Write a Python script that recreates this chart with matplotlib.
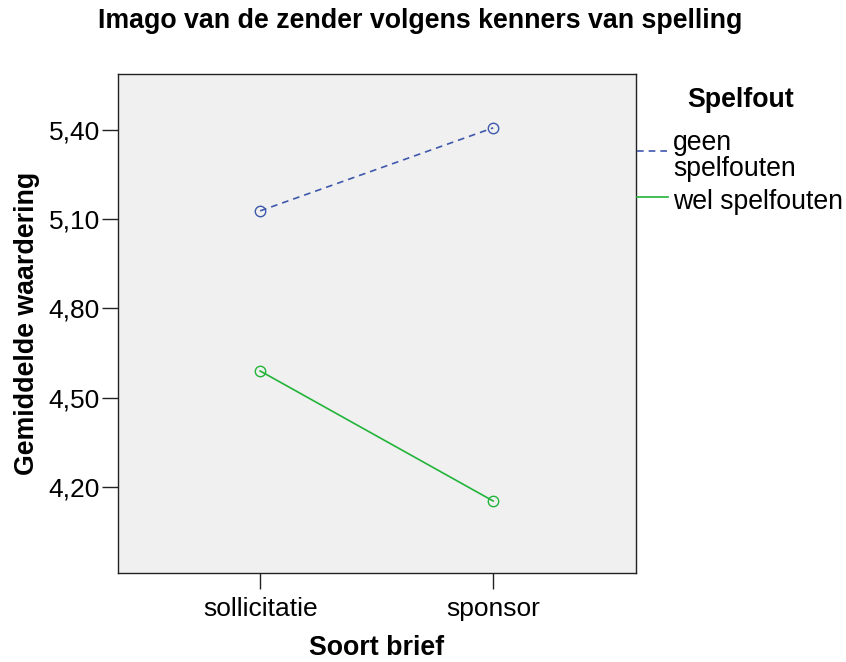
import matplotlib
matplotlib.use("Agg")
import matplotlib.pyplot as plt
from matplotlib.lines import Line2D

plt.rcParams['font.family'] = ['Liberation Sans', 'DejaVu Sans']

categories = ['sollicitatie', 'sponsor']
geen_spelfouten = [5.128, 5.407]
wel_spelfouten = [4.590, 4.153]
series_labels = ['geen\nspelfouten', 'wel spelfouten']
yticks = [4.20, 4.50, 4.80, 5.10, 5.40]
ytick_labels = ['4,20', '4,50', '4,80', '5,10', '5,40']

blue = '#3e58ac'
green = '#22b43a'

fig = plt.figure(figsize=(8.46, 6.62), dpi=100)
ax = fig.add_axes([118/846, 1 - 573/662, (636 - 118)/846, (573 - 74)/662])
ax.set_facecolor('#f0f0f0')

x = list(range(len(categories)))
ax.plot(x, geen_spelfouten, color=blue, lw=1.2, ls=(0, (4, 3)),
        marker='o', mfc='none', mec=blue, ms=7.5, mew=1.0)
ax.plot(x, wel_spelfouten, color=green, lw=1.2,
        marker='o', mfc='none', mec=green, ms=7.5, mew=1.0)

ax.set_xlim(-0.61, 1.613)
ax.set_ylim(3.911, 5.588)
ax.set_xticks(x)
ax.set_xticklabels(categories, fontsize=19)
ax.set_yticks(yticks)
ax.set_yticklabels(ytick_labels, fontsize=19)
ax.tick_params(direction='out', length=11.5, width=1, color='#222222')
ax.tick_params(axis='x', pad=6)
ax.tick_params(axis='y', pad=1.5)
for s in ax.spines.values():
    s.set_color('#222222')
    s.set_linewidth(1.0)

ax.set_xlabel('Soort brief', fontsize=19.3, fontweight='bold', labelpad=10)
ax.set_ylabel('Gemiddelde waardering', fontsize=19.3, fontweight='bold', labelpad=6)

fig.text(420/846, 1 - 21/662, 'Imago van de zender volgens kenners van spelling',
         ha='center', va='center', fontsize=19.3, fontweight='bold')

# legend drawn beside the plot
fig.text(741/846, 1 - 100/662, 'Spelfout', ha='center', va='center',
         fontsize=19.3, fontweight='bold')
leg_y = [151, 197]
leg_styles = [(blue, (0, (4, 3))), (green, '-')]
for lab, yy, (c, ls) in zip(series_labels, leg_y, leg_styles):
    fig.add_artist(Line2D([637/846, 668/846], [1 - yy/662, 1 - yy/662],
                          color=c, lw=1.2, ls=ls))
    fig.text(673/846, 1 - (yy + 5)/662, lab, ha='left', va='center',
             fontsize=19.2, linespacing=0.95)

fig.savefig('out.png', dpi=100)
